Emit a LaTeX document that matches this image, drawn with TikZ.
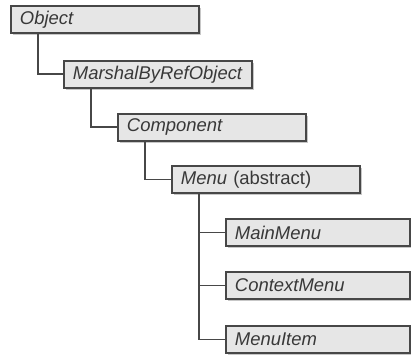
\documentclass[tikz,border=0pt]{standalone}
\usepackage{fontspec}
\setmainfont{Liberation Sans}
\usetikzlibrary{shadows}

\definecolor{boxfill}{HTML}{E6E6E6}
\definecolor{boxline}{HTML}{474747}
\definecolor{boxtext}{HTML}{383838}

\begin{document}
\begin{tikzpicture}[
    x=0.02cm, y=-0.02cm,
    every node/.style={font=\fontsize{10.5}{12}\selectfont\itshape, text=boxtext},
    classbox/.style={draw=boxline, fill=boxfill, line width=1.1pt,
        anchor=north west, minimum height=0.54cm, inner xsep=0.18cm, inner ysep=1pt,
        text width=3.40cm, align=left,
        drop shadow={shadow xshift=0.05cm, shadow yshift=-0.05cm, fill=gray!55, opacity=0.8}},
    leafbox/.style={classbox, text width=3.32cm},
    link/.style={draw=boxline, line width=1.1pt}
]

% Parameters
\def\stem{0.56cm}

\useasboundingbox (0,0) rectangle (411,358);

% === Class chain ===
\node[classbox] (object)    at (10,5)    {Object};
\node[classbox] (marshal)   at (63,60)   {MarshalByRefObject};
\node[classbox] (component) at (117,113) {Component};
\node[classbox] (menu)      at (171,165) {Menu \upshape(abstract)};

% === Menu subclasses ===
\node[leafbox] (mainmenu)    at (225,218) {MainMenu};
\node[leafbox] (contextmenu) at (225,271) {ContextMenu};
\node[leafbox] (menuitem)    at (225,325) {MenuItem};

% === Inheritance links ===
\draw[link] ([xshift=\stem]object.south west) |- (marshal.west);
\draw[link] ([xshift=\stem]marshal.south west) |- (component.west);
\draw[link] ([xshift=\stem]component.south west) |- (menu.west);
\foreach \leaf in {mainmenu, contextmenu, menuitem} {
    \draw[link] ([xshift=\stem]menu.south west) |- (\leaf.west);
}

\end{tikzpicture}
\end{document}
